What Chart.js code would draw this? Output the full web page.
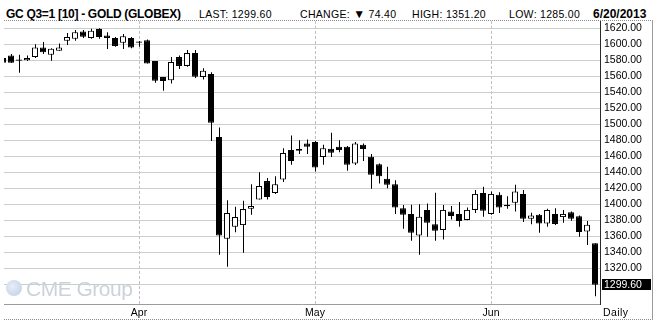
<!DOCTYPE html>
<html>
<head>
<meta charset="utf-8">
<script src="https://cdn.jsdelivr.net/npm/chart.js@4.4.1/dist/chart.umd.min.js"></script>
<style>
  body { margin: 0; background: #fff; }
  #wrap { position: relative; width: 657px; height: 323px; overflow: hidden; font-family: "Liberation Sans", Arial, sans-serif; color: #000; }
  .hd { position: absolute; top: 7px; line-height: 14px; font-size: 10.5px; letter-spacing: 0.3px; white-space: nowrap; }
  .hd.b { font-weight: bold; font-size: 12px; letter-spacing: 0; }
  .ln { position: absolute; }
  #c { position: absolute; left: 0; top: 0; }
  #cme { position: absolute; left: 5px; top: 278px; height: 22px; white-space: nowrap; pointer-events: none; }
  #cme .globe { position: absolute; left: 1px; top: 2px; width: 16px; height: 16px; border-radius: 50%;
    background: radial-gradient(circle at 40% 40%, #e8eef8 0, #cddaeb 60%, #bfcfe4 100%); }
  #cme .txt { position: absolute; left: 21px; top: -1px; font-size: 21px; letter-spacing: -0.5px; color: #ccd1da; }
  #daily { position: absolute; left: 603px; top: 306px; font-size: 10.5px; letter-spacing: 0.4px; line-height: 13px; }
</style>
</head>
<body>
<div id="wrap">
  <span class="hd b" style="left:6px;letter-spacing:-0.3px">GC Q3=1 [10] - GOLD (GLOBEX)</span>
  <span class="hd" style="left:199px">LAST: 1299.60</span>
  <span class="hd" style="left:300px">CHANGE: <span style="font-size:12px">▼</span> 74.40</span>
  <span class="hd" style="left:412px">HIGH: 1351.20</span>
  <span class="hd" style="left:509px">LOW: 1285.00</span>
  <span class="hd b" style="left:593px">6/20/2013</span>

  <div class="ln" style="left:4px;top:20px;width:649px;border-top:1px dotted #8c8c8c"></div>
  <div class="ln" style="left:4px;top:319px;width:649px;border-top:1px dotted #8c8c8c"></div>
  <div class="ln" style="left:652px;top:20px;height:300px;border-left:1px solid #9a9a9a"></div>

  <canvas id="c" width="657" height="323"></canvas>

  <div id="cme"><div class="globe"></div><span class="txt">CME Group</span></div>
  <div id="daily">Daily</div>
</div>

<script>
// daily OHLC, one entry per session (first one is clipped at the left edge)
const opens = [1583, 1586, 1581, 1580, 1584, 1596, 1587, 1592, 1604.5, 1607, 1616, 1608, 1619, 1611, 1608, 1602, 1608,
  1603.5, 1605, 1579, 1559, 1555, 1584, 1573, 1589, 1559, 1563, 1484, 1357, 1372, 1374, 1394.5, 1406, 1429, 1414, 1431, 1468, 1469, 1476,
  1478, 1459, 1469.5, 1472, 1472, 1451, 1474.5, 1459.5, 1450, 1432, 1425, 1395, 1388, 1361, 1393, 1375, 1368, 1391, 1388, 1380.5, 1393, 1414,
  1388, 1412, 1399.5, 1402, 1413, 1382, 1387, 1376, 1388, 1384, 1390, 1385, 1366, 1351.2];
const highs = [1584, 1588, 1587, 1586, 1600, 1603, 1595, 1601, 1614, 1618, 1618, 1619.5, 1620, 1615, 1609, 1613, 1609,
  1604, 1606, 1579, 1559, 1584, 1586, 1593, 1593, 1570, 1565, 1496, 1405, 1397, 1404.5, 1425, 1440, 1433, 1435, 1470, 1486, 1480, 1481,
  1479, 1474.5, 1489.5, 1480, 1473, 1478, 1476, 1463, 1451, 1447, 1430, 1399, 1399.5, 1400, 1401, 1414.5, 1399, 1398, 1403, 1396, 1418, 1422,
  1416, 1415, 1410, 1424.5, 1418, 1389.5, 1388, 1394.5, 1395, 1393, 1391, 1386, 1379, 1351.2];
const lows = [1576, 1577, 1564.5, 1579, 1583, 1588, 1579.5, 1592, 1599, 1604.5, 1608, 1607, 1607, 1594, 1597, 1594, 1595,
  1597, 1576, 1552, 1542, 1551, 1569, 1572, 1558, 1556, 1479, 1337, 1322, 1365, 1339.5, 1387, 1406, 1406, 1413, 1428, 1449.5, 1463, 1463,
  1441, 1449.5, 1459, 1465, 1442, 1449, 1454, 1419.5, 1426, 1420, 1388, 1369.5, 1354.5, 1337, 1359.5, 1354.5, 1356, 1381, 1372, 1380, 1389, 1384.5,
  1387, 1389, 1394.5, 1391, 1378, 1375, 1364.5, 1372, 1374, 1377, 1379.5, 1359.5, 1349, 1285];
const closes = [1577, 1577, 1579.5, 1583, 1596, 1590, 1594.5, 1596, 1609, 1615, 1609.5, 1617, 1609, 1608, 1598, 1610, 1596,
  1602, 1576, 1554.5, 1554, 1578, 1573, 1589, 1559.5, 1567, 1502, 1361, 1389, 1384, 1394, 1398, 1423, 1409, 1425, 1464, 1454, 1467, 1472,
  1446, 1470, 1464.5, 1468, 1449.5, 1476, 1469, 1437, 1435, 1424.5, 1396, 1387, 1364.5, 1384.5, 1377, 1367, 1393, 1385.5, 1379, 1393, 1413, 1392,
  1413, 1396, 1397.5, 1416, 1382, 1386, 1376, 1393, 1375.5, 1388, 1382, 1365.5, 1374.5, 1299.6];

// first session of each month
const monthTickIdx = [17, 39, 61];
const monthNames = ['Apr', 'May', 'Jun'];

const priceTicks = [1300, 1320, 1340, 1360, 1380, 1400, 1420, 1440, 1460, 1480, 1500, 1520, 1540, 1560, 1580, 1600, 1620];
const lastPrice = 1299.60;

Chart.defaults.font.family = '"Liberation Sans", Arial, sans-serif';
Chart.defaults.color = '#000';

const xMin = 0.125, xMax = 74.625;

const wickData = lows.map((l, i) => ({ x: i, y: [l, highs[i]] }));
const bodyData = opens.map((o, i) => ({ x: i, y: [o, closes[i]] }));
const bodyFill = opens.map((o, i) => closes[i] >= o ? '#ffffff' : '#000000');

// black box with the last price on the right axis
const lastPriceTag = {
    id: 'lastPriceTag',
    afterDraw(chart) {
        const { ctx, chartArea } = chart;
        const y = chart.scales.y.getPixelForValue(lastPrice);
        ctx.save();
        ctx.fillStyle = '#000';
        ctx.fillRect(chartArea.right + 2, Math.floor(y) - 5, 49, 11);
        ctx.fillStyle = '#fff';
        ctx.font = '10.5px "Liberation Sans", Arial, sans-serif';
        ctx.textBaseline = 'middle';
        ctx.fillText(lastPrice.toFixed(2), chartArea.right + 4, Math.floor(y) + 1);
        ctx.restore();
    }
};

new Chart(document.getElementById('c'), {
    type: 'bar',
    data: {
        datasets: [
            {
                label: 'range', data: wickData, xAxisID: 'xw', order: 2,
                backgroundColor: '#000', borderWidth: 0, barThickness: 1,
                grouped: false, inflateAmount: 0, clip: 0
            },
            {
                label: 'body', data: bodyData, xAxisID: 'x', order: 1,
                backgroundColor: bodyFill, borderColor: '#000', borderWidth: 1, borderSkipped: false,
                barThickness: 6, grouped: false, inflateAmount: 0, clip: 0
            }
        ]
    },
    options: {
        responsive: false, animation: false, devicePixelRatio: 1,
        layout: { padding: { top: 21, left: 4, right: 5, bottom: 3 } },
        plugins: { legend: { display: false }, tooltip: { enabled: false } },
        scales: {
            x: {
                type: 'linear', position: 'bottom', min: xMin, max: xMax, offset: false,
                afterBuildTicks: (s) => { s.ticks = monthTickIdx.map(v => ({ value: v })); },
                afterFit: (s) => { s.height = 16; },
                ticks: {
                    padding: 3, maxRotation: 0, autoSkip: false, font: { size: 10.5 },
                    callback: (v) => monthNames[monthTickIdx.indexOf(v)]
                },
                grid: { color: '#c8bcc8', drawTicks: false, offset: false },
                border: { color: '#9c9c9c', dash: [3, 2] }
            },
            xw: {
                type: 'linear', display: false, offset: false, min: xMin - 0.0625, max: xMax - 0.0625,
                grid: { offset: false }
            },
            y: {
                position: 'right', min: 1275.4, max: 1629.1,
                afterBuildTicks: (s) => { s.ticks = priceTicks.map(v => ({ value: v })); },
                afterFit: (s) => { s.width = 52; },
                ticks: { padding: 4, font: { size: 10.5 }, callback: (v) => v.toFixed(2) },
                grid: { color: '#c9cfc9', drawTicks: false },
                border: { color: '#2a2a2a' }
            }
        }
    },
    plugins: [lastPriceTag]
});
</script>
</body>
</html>
